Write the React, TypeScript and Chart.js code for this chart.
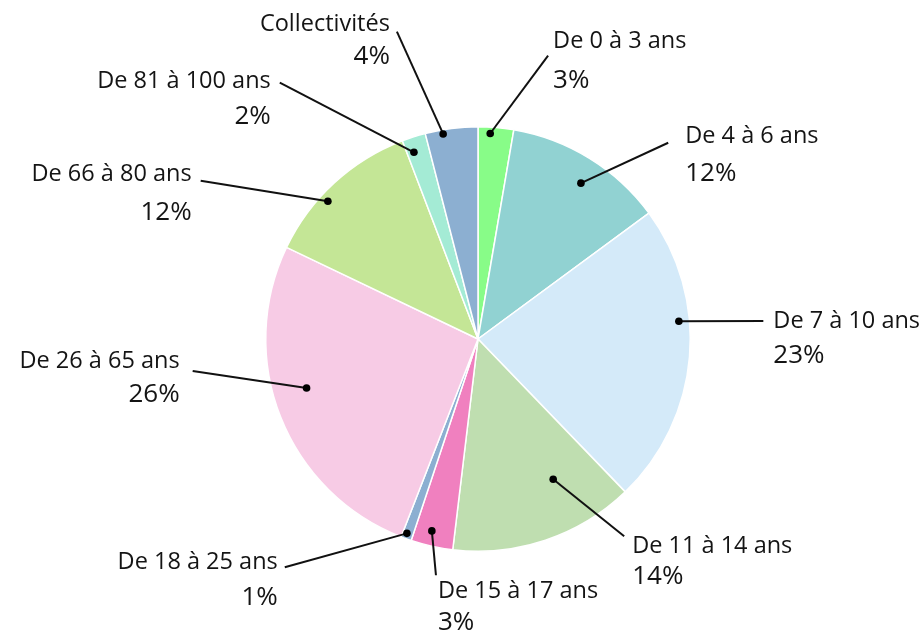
import React, { useEffect, useRef } from "react";
import { Chart, registerables } from "chart.js";

Chart.register(...registerables);

const categories = [
  "De 0 à 3 ans",
  "De 4 à 6 ans",
  "De 7 à 10 ans",
  "De 11 à 14 ans",
  "De 15 à 17 ans",
  "De 18 à 25 ans",
  "De 26 à 65 ans",
  "De 66 à 80 ans",
  "De 81 à 100 ans",
  "Collectivités",
];
const values = [2.7, 12.2, 22.9, 14.1, 3.2, 0.8, 26.2, 12.1, 1.8, 4.0];
const percentLabels = ["3%", "12%", "23%", "14%", "3%", "1%", "26%", "12%", "2%", "4%"];
const colors = [
  "#88fc88",
  "#91d2d2",
  "#d4eaf9",
  "#bfdeb0",
  "#f080bf",
  "#8cafd1",
  "#f7cbe5",
  "#c4e696",
  "#a4ebd5",
  "#8cafd1",
];

// label layout, offsets in pixels relative to pie centre for a 212px radius
type LabelLayout = {
  t: number; // fraction along the slice angle for the dot
  r: number; // radius fraction for the dot
  lx: number; ly: number; // line end
  tx: number; ty: number; // name text anchor (vertical centre)
  py: number; // percent text vertical centre
  align: "left" | "right";
};
const labelLayout: LabelLayout[] = [
  { t: 0.35, r: 0.97, lx: 70, ly: -283, tx: 75, ty: -299, py: -260, align: "left" },
  { t: 0.54, r: 0.88, lx: 190, ly: -196, tx: 207, ty: -204, py: -167, align: "left" },
  { t: 0.38, r: 0.95, lx: 285, ly: -18, tx: 295, ty: -19, py: 15, align: "left" },
  { t: 0.31, r: 0.75, lx: 146, ly: 197, tx: 154, ty: 206, py: 236, align: "left" },
  { t: 0.58, r: 0.93, lx: -42, ly: 236, tx: -40, ty: 251, py: 282, align: "left" },
  { t: 0.6, r: 0.975, lx: -193, ly: 228, tx: -200, ty: 222, py: 257, align: "right" },
  { t: 0.56, r: 0.84, lx: -285, ly: 32, tx: -298, ty: 21, py: 54, align: "right" },
  { t: 0.39, r: 0.96, lx: -277, ly: -158, tx: -286, ty: -166, py: -128, align: "right" },
  { t: 0.3, r: 0.93, lx: -198, ly: -256, tx: -207, ty: -259, py: -224, align: "right" },
  { t: 0.33, r: 0.98, lx: -81, ly: -307, tx: -88, ty: -316, py: -284, align: "right" },
];

const FONT = '23.5px "Open Sans", Lato, sans-serif';
const PCT_FONT = '26px "Open Sans", Lato, sans-serif';
const TEXT_SHIFT = 1.5;

const leaderPlugin = {
  id: "leaderLabels",
  afterDatasetsDraw(chart: any) {
    const ctx = chart.ctx as CanvasRenderingContext2D;
    const meta = chart.getDatasetMeta(0);
    ctx.save();
    meta.data.forEach((arc: any, i: number) => {
      const L = labelLayout[i];
      if (!L) return;
      const R = arc.outerRadius;
      const s = R / 212;
      const cx = arc.x;
      const cy = arc.y;
      const a = arc.startAngle + L.t * (arc.endAngle - arc.startAngle);
      const dx = cx + Math.cos(a) * R * L.r;
      const dy = cy + Math.sin(a) * R * L.r;
      const ex = cx + L.lx * s;
      const ey = cy + L.ly * s;
      ctx.strokeStyle = "#111";
      ctx.lineWidth = 2;
      ctx.beginPath();
      ctx.moveTo(dx, dy);
      ctx.lineTo(ex, ey);
      ctx.stroke();
      ctx.fillStyle = "#000";
      ctx.beginPath();
      ctx.arc(dx, dy, 3.8, 0, Math.PI * 2);
      ctx.fill();
      ctx.fillStyle = "#141414";
      ctx.textAlign = L.align;
      ctx.textBaseline = "middle";
      ctx.font = FONT;
      ctx.fillText(categories[i], cx + L.tx * s, cy + L.ty * s + TEXT_SHIFT);
      ctx.font = PCT_FONT;
      ctx.fillText(percentLabels[i], cx + L.tx * s, cy + L.py * s + TEXT_SHIFT);
    });
    ctx.restore();
  },
};

export default function App() {
  const canvasRef = useRef<HTMLCanvasElement | null>(null);
  useEffect(() => {
    if (!canvasRef.current) return;
    const chart = new Chart(canvasRef.current, {
      type: "pie",
      data: {
        labels: categories,
        datasets: [
          {
            data: values,
            backgroundColor: colors,
            borderColor: "#ffffff",
            borderWidth: 1.5,
          },
        ],
      },
      options: {
        animation: false,
        responsive: true,
        maintainAspectRatio: false,
        layout: { padding: { left: 265, right: 233, top: 126, bottom: 82 } },
        plugins: {
          legend: { display: false },
          tooltip: { enabled: false },
        },
      },
      plugins: [leaderPlugin],
    });
    return () => chart.destroy();
  }, []);
  return (
    <div style={{ position: "absolute", left: 0, top: 0, width: 924, height: 634, background: "#fff" }}>
      <canvas ref={canvasRef} />
    </div>
  );
}
